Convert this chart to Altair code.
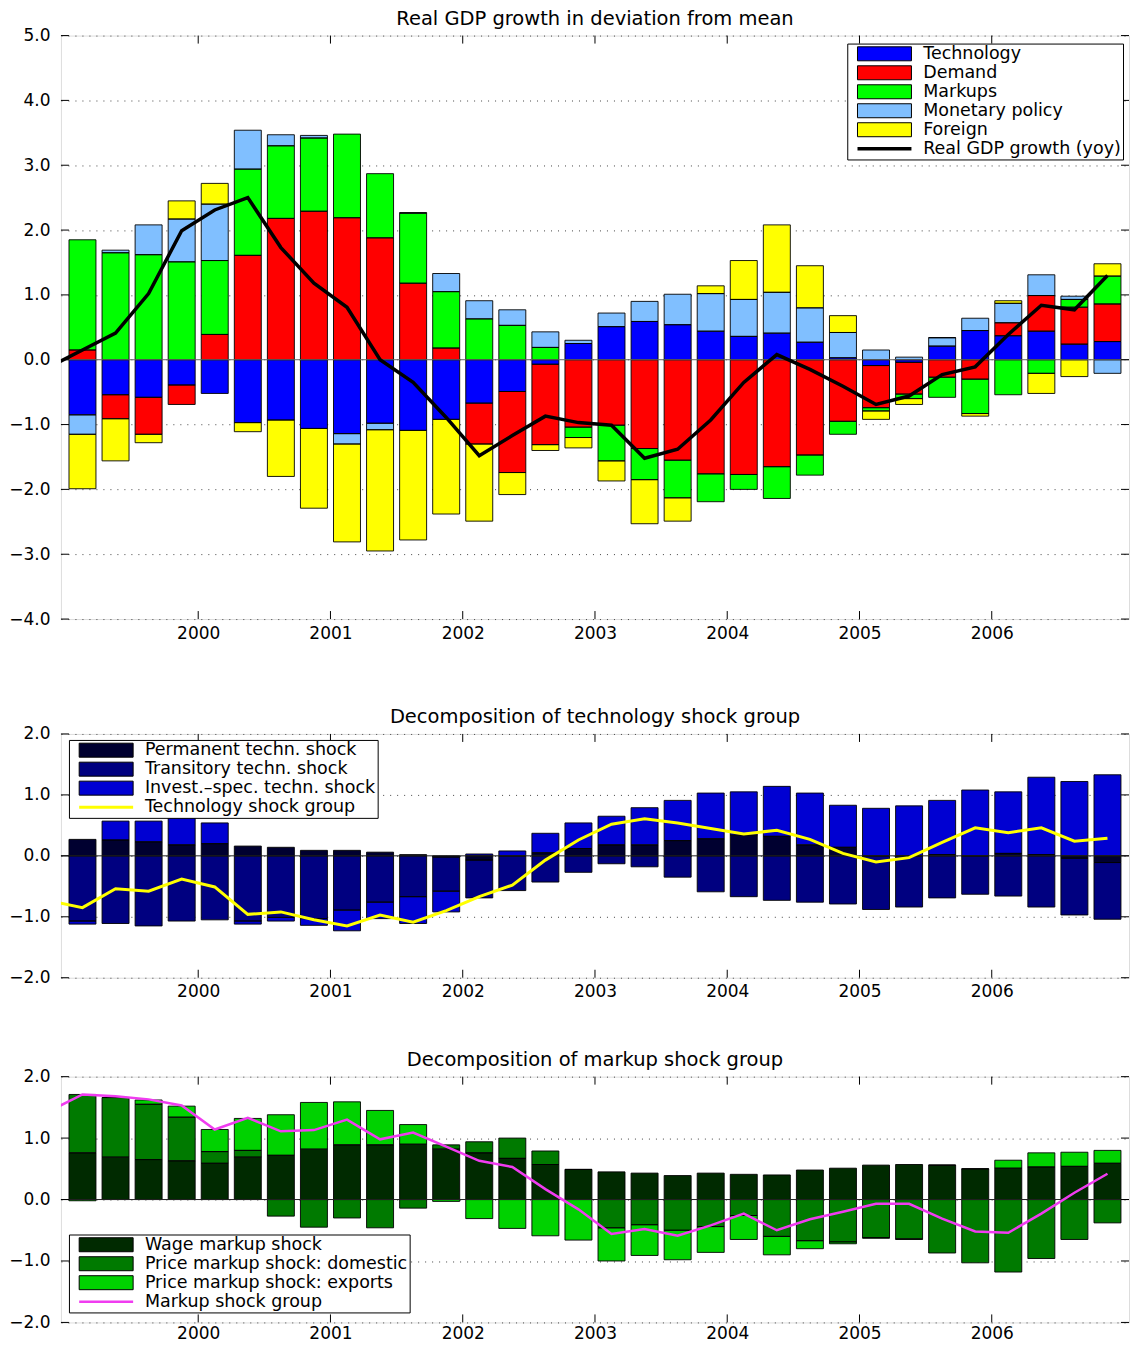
import altair as alt
import pandas as pd

# ---------------- data ----------------
QUARTERS = [f"{y}Q{q}" for y in range(1999, 2007) for q in range(1, 5)]
LINE_QUARTERS = ["1998Q4"] + QUARTERS
YEAR_TICKS = [2000, 2001, 2002, 2003, 2004, 2005, 2006]

# Panel 1: Real GDP growth decomposition
P1_TITLE = "Real GDP growth in deviation from mean"
P1_NAMES = ["Technology", "Demand", "Markups", "Monetary policy", "Foreign"]
P1_COLORS = ["#0000ff", "#ff0000", "#00ff00", "#80bfff", "#ffff00"]
TECHNOLOGY = [-0.85, -0.54, -0.58, -0.39, -0.52, -0.97, -0.93, -1.06, -1.14, -0.98, -1.09, -0.92,
              -0.67, -0.49, -0.07, 0.25, 0.51, 0.59, 0.54, 0.44, 0.36, 0.41, 0.27, 0.03,
              -0.09, -0.04, 0.21, 0.45, 0.37, 0.44, 0.24, 0.28]
DEMAND = [0.15, -0.37, -0.57, -0.30, 0.39, 1.61, 2.18, 2.29, 2.19, 1.88, 1.18, 0.18,
          -0.63, -1.25, -1.24, -1.04, -1.01, -1.37, -1.55, -1.76, -1.77, -1.65, -1.47, -0.95,
          -0.65, -0.49, -0.27, -0.30, 0.20, 0.55, 0.57, 0.58]
MARKUPS = [1.70, 1.65, 1.62, 1.51, 1.14, 1.33, 1.12, 1.13, 1.29, 0.99, 1.08, 0.87,
           0.63, 0.53, 0.19, -0.16, -0.55, -0.48, -0.58, -0.43, -0.23, -0.49, -0.31, -0.20,
           -0.05, -0.07, -0.31, -0.53, -0.54, -0.21, 0.12, 0.43]
MONETARY = [-0.30, 0.04, 0.46, 0.66, 0.87, 0.60, 0.17, 0.04, -0.16, -0.10, 0.01, 0.28,
            0.28, 0.24, 0.24, 0.05, 0.21, 0.31, 0.47, 0.58, 0.57, 0.63, 0.53, 0.39,
            0.15, 0.04, 0.13, 0.19, 0.30, 0.32, 0.05, -0.21]
FOREIGN = [-0.84, -0.65, -0.13, 0.28, 0.32, -0.14, -0.87, -1.23, -1.51, -1.87, -1.69, -1.46,
           -1.19, -0.34, -0.09, -0.16, -0.31, -0.68, -0.36, 0.12, 0.60, 1.04, 0.65, 0.26,
           -0.13, -0.09, 0.00, -0.04, 0.04, -0.31, -0.26, 0.19]
GDP_LINE = [-0.11, 0.15, 0.41, 1.02, 1.99, 2.31, 2.50, 1.73, 1.18, 0.81, 0.00, -0.35, -0.89,
            -1.48, -1.17, -0.87, -0.97, -1.01, -1.52, -1.38, -0.93, -0.35, 0.08, -0.15, -0.41,
            -0.69, -0.56, -0.23, -0.11, 0.39, 0.84, 0.77, 1.30]
P1_YTICKS = [-4, -3, -2, -1, 0, 1, 2, 3, 4, 5]

# Panel 2: technology shock group
P2_TITLE = "Decomposition of technology shock group"
P2_NAMES = ["Permanent techn. shock", "Transitory techn. shock", "Invest.\u2013spec. techn. shock"]
P2_COLORS = ["#000030", "#000080", "#0000d2"]
PERMANENT = [0.27, 0.26, 0.23, 0.18, 0.20, 0.16, 0.14, 0.09, 0.09, 0.06, 0.02, -0.02,
             -0.07, 0.00, 0.05, 0.12, 0.18, 0.18, 0.25, 0.28, 0.34, 0.32, 0.18, 0.14,
             0.00, 0.00, 0.02, 0.00, 0.04, 0.02, -0.04, -0.11]
TRANSITORY = [-1.07, -1.11, -1.15, -1.07, -1.05, -1.07, -1.01, -1.03, -0.89, -0.76, -0.67, -0.56,
              -0.62, -0.57, -0.43, -0.27, -0.13, -0.18, -0.35, -0.59, -0.67, -0.73, -0.76, -0.79,
              -0.88, -0.84, -0.69, -0.63, -0.66, -0.84, -0.93, -0.93]
INVEST = [-0.05, 0.31, 0.34, 0.51, 0.34, -0.05, -0.06, -0.11, -0.34, -0.27, -0.44, -0.34,
          0.03, 0.08, 0.32, 0.42, 0.47, 0.61, 0.66, 0.75, 0.71, 0.82, 0.85, 0.69,
          0.78, 0.82, 0.89, 1.08, 1.01, 1.27, 1.22, 1.33]
TECH_GROUP = [-0.74, -0.85, -0.54, -0.58, -0.38, -0.51, -0.96, -0.92, -1.05, -1.15, -0.97, -1.09,
              -0.90, -0.67, -0.48, -0.07, 0.26, 0.52, 0.61, 0.54, 0.45, 0.36, 0.42, 0.27, 0.04,
              -0.10, -0.03, 0.22, 0.46, 0.38, 0.46, 0.24, 0.29]
P2_YTICKS = [-2, -1, 0, 1, 2]

# Panel 3: markup shock group
P3_TITLE = "Decomposition of markup shock group"
P3_NAMES = ["Wage markup shock", "Price markup shock: domestic", "Price markup shock: exports"]
P3_COLORS = ["#002a00", "#007a00", "#00d200"]
WAGE = [0.76, 0.69, 0.65, 0.63, 0.59, 0.69, 0.72, 0.82, 0.89, 0.89, 0.90, 0.82,
        0.76, 0.67, 0.57, 0.49, 0.45, 0.43, 0.39, 0.43, 0.41, 0.40, 0.48, 0.51,
        0.56, 0.57, 0.56, 0.50, 0.51, 0.53, 0.54, 0.59]
DOMESTIC = [0.95, 0.97, 0.90, 0.71, 0.19, 0.11, -0.27, -0.45, -0.30, -0.46, -0.14, 0.07,
            0.18, 0.33, 0.22, 0.00, -0.46, -0.41, -0.50, -0.44, -0.26, -0.60, -0.67, -0.69,
            -0.62, -0.64, -0.87, -1.03, -1.18, -0.96, -0.65, -0.38]
EXPORTS = [-0.02, 0.00, 0.07, 0.18, 0.36, 0.52, 0.66, 0.76, 0.70, 0.56, 0.32, -0.03,
           -0.31, -0.47, -0.59, -0.66, -0.54, -0.50, -0.48, -0.42, -0.39, -0.30, -0.13, -0.03,
           -0.01, -0.01, 0.00, 0.00, 0.13, 0.23, 0.23, 0.21]
MARKUP_GROUP = [1.44, 1.71, 1.68, 1.63, 1.53, 1.14, 1.33, 1.11, 1.13, 1.30, 0.98, 1.09, 0.86,
                0.63, 0.53, 0.17, -0.16, -0.56, -0.48, -0.59, -0.42, -0.23, -0.50, -0.32, -0.20,
                -0.07, -0.07, -0.31, -0.52, -0.54, -0.23, 0.11, 0.42]
P3_YTICKS = [-2, -1, 0, 1, 2]

FONT = "DejaVu Sans"
PLOT_W = 1069
TICK_LEN = 8


def qpos(label):
    y, q = label.split("Q")
    return int(y) + (int(q) - 0.5) / 4


def panel(title, names, colors, series, line_name, line_vals, line_color, line_width,
          y_domain, y_ticks, height, legend_x, legend_y, x_extent, x_pad, zero_color):
    rows = []
    for k, (name, vals) in enumerate(zip(names, series)):
        for ql, v in zip(QUARTERS, vals):
            rows.append({"t": qpos(ql), "series": name, "k": k, "value": v})
    bars_df = pd.DataFrame(rows)
    line_df = pd.DataFrame({"t": [qpos(q) for q in LINE_QUARTERS], "value": line_vals})

    xs = alt.Scale(domain=[1999, 2007], nice=False, zero=False)
    ys = alt.Scale(domain=y_domain, nice=False, zero=False)

    is_line = f"datum.value === '{line_name}'"
    legend = alt.Legend(
        title=None, orient="none", legendX=legend_x, legendY=legend_y,
        padding=1.5, strokeColor="black", fillColor="white", cornerRadius=0,
        labelFont=FONT, labelFontSize=17.5, labelColor="black", labelOffset=50,
        labelExpr="datum.label + '\u00a0'",
        labelLimit=500, rowPadding=0, symbolSize=196, symbolOffset=7,
        symbolType=alt.ExprRef(expr=f"{is_line} ? 'M-1,0H6.714' : 'M-1,-1H6.714V1H-1Z'"),
        symbolStrokeColor=alt.ExprRef(expr=f"{is_line} ? '{line_color}' : 'black'"),
        symbolStrokeWidth=alt.ExprRef(expr=f"{is_line} ? {line_width} : 1"),
    )

    x_axis = alt.Axis(values=YEAR_TICKS, format="d", title=None, grid=False, ticks=False,
                      domain=False, labelPadding=x_pad, labelFont=FONT, labelFontSize=17,
                      labelColor="black", minExtent=x_extent, maxExtent=x_extent)
    y_axis = alt.Axis(values=y_ticks, format=".1f", title=None, grid=True, gridDash=[1, 6],
                      gridColor="#444", gridWidth=1, ticks=False, domain=False,
                      labelPadding=11, labelFont=FONT, labelFontSize=17, labelColor="black",
                      minExtent=52, maxExtent=52)

    def X(field):
        return alt.X(field, scale=xs, axis=x_axis)

    def Y(field, **kw):
        return alt.Y(field, scale=ys, axis=y_axis, **kw)

    fill_layer = alt.Chart(bars_df).mark_bar(size=27).encode(
        x=X("t:Q"),
        y=Y("value:Q", stack="zero"),
        fill=alt.Fill("series:N", scale=alt.Scale(domain=names + [line_name],
                                                  range=colors + [line_color]),
                      legend=legend),
        order=alt.Order("k:Q"),
    )
    stroke_layer = alt.Chart(bars_df).mark_bar(size=27, fillOpacity=0, stroke="black",
                                               strokeWidth=0.9).encode(
        x=X("t:Q"),
        y=Y("value:Q", stack="zero"),
        detail="series:N",
        order=alt.Order("k:Q"),
    )
    zero_rule = alt.Chart(pd.DataFrame({"v": [0]})).mark_rule(
        color=zero_color, strokeWidth=1).encode(y=Y("v:Q"))
    line = alt.Chart(line_df).mark_line(color=line_color, strokeWidth=line_width,
                                        clip=True).encode(
        x=X("t:Q"),
        y=Y("value:Q"),
    )
    xt = pd.DataFrame({"t": YEAR_TICKS})
    yt = pd.DataFrame({"v": y_ticks})
    tick_top = alt.Chart(xt).mark_rule(color="black").encode(
        x=X("t:Q"), y=alt.value(0), y2=alt.value(TICK_LEN))
    tick_bot = alt.Chart(xt).mark_rule(color="black").encode(
        x=X("t:Q"), y=alt.value(height), y2=alt.value(height - TICK_LEN))
    tick_left = alt.Chart(yt).mark_rule(color="black").encode(
        y=Y("v:Q"), x=alt.value(0), x2=alt.value(TICK_LEN))
    tick_right = alt.Chart(yt).mark_rule(color="black").encode(
        y=Y("v:Q"), x=alt.value(PLOT_W), x2=alt.value(PLOT_W - TICK_LEN))
    title_mark = alt.Chart(pd.DataFrame({"label": [title]})).mark_text(
        font=FONT, fontSize=19.5, color="black", align="center", baseline="top"
    ).encode(text="label:N", x=alt.value(PLOT_W / 2), y=alt.value(-25.5))

    return alt.layer(fill_layer, stroke_layer, zero_rule, line,
                     tick_top, tick_bot, tick_left, tick_right, title_mark).properties(
        width=PLOT_W, height=height,
    )


p1 = panel(P1_TITLE, P1_NAMES, P1_COLORS,
           [TECHNOLOGY, DEMAND, MARKUPS, MONETARY, FOREIGN],
           "Real GDP growth (yoy)", GDP_LINE, "#000000", 3.5,
           [-4, 5], P1_YTICKS, 584, 787, 8, 47.5, 6, "#666666")
p2 = panel(P2_TITLE, P2_NAMES, P2_COLORS,
           [PERMANENT, TRANSITORY, INVEST],
           "Technology shock group", TECH_GROUP, "#ffff00", 3,
           [-2, 2], P2_YTICKS, 244, 8, 6, 31.5, 6, "#222222")
p3 = panel(P3_TITLE, P3_NAMES, P3_COLORS,
           [WAGE, DOMESTIC, EXPORTS],
           "Markup shock group", MARKUP_GROUP, "#f03cf0", 2.5,
           [-2, 2], P3_YTICKS, 246, 8, 158, 18, 3, "#222222")

chart = alt.vconcat(p1, p2, p3, spacing=40).resolve_scale(
    x="independent", y="independent", fill="independent"
).properties(
    padding={"left": 0, "top": 0, "right": 0, "bottom": 0}
).configure_view(stroke="black", strokeWidth=1).configure(font=FONT)

chart.save("out.html", embed_options={"renderer": "svg", "actions": False})
